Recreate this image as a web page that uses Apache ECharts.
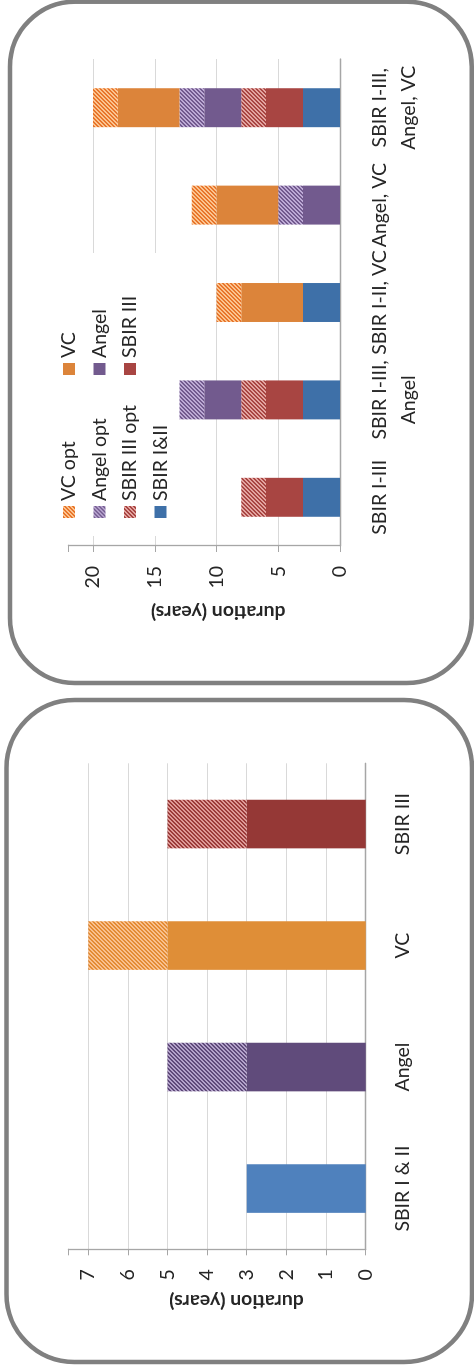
<!DOCTYPE html>
<html><head><meta charset="utf-8">
<script src="https://cdn.jsdelivr.net/npm/echarts@6/dist/echarts.min.js"></script>
<style>
html,body{margin:0;padding:0;background:#fff;overflow:hidden;width:474px;height:1366px;}
#wrap{position:absolute;left:0;top:0;width:1366px;height:474px;transform-origin:0 0;transform:translateY(1366px) rotate(-90deg);}
#chart{width:1366px;height:474px;}
</style></head><body><div id="wrap"><div id="chart"></div></div>
<script>
// ---- data: single-source chart (left panel) ----
const singleCategories = ['SBIR I & II', 'Angel', 'VC', 'SBIR III'];
const singleBase = [3, 3, 5, 3];
const singleOpt = [null, 2, 2, 2];
const singleTicks = [0, 1, 2, 3, 4, 5, 6, 7];

// ---- data: combination chart (right panel) ----
const comboCategories = ['SBIR I-III', 'SBIR I-III,\nAngel', 'SBIR I-II, VC', 'Angel, VC', 'SBIR I-III,\nAngel, VC'];
const sbirI_II   = [3, 3, 3, null, 3];
const sbirIII    = [3, 3, null, null, 3];
const sbirIIIOpt = [2, 2, null, null, 2];
const angel      = [null, 3, null, 3, 3];
const angelOpt   = [null, 2, null, 2, 2];
const vc         = [null, null, 5, 5, 5];
const vcOpt      = [null, null, 2, 2, 2];
const comboTicks = [0, 5, 10, 15, 20];
const legendNames = ['VC opt', 'VC', 'Angel opt', 'Angel', 'SBIR III opt', 'SBIR III', 'SBIR I&II'];

function hatch(dark, light) {
  const c = document.createElement('canvas');
  c.width = 4; c.height = 4;
  const g = c.getContext('2d');
  g.fillStyle = light; g.fillRect(0, 0, 4, 4);
  g.fillStyle = dark;
  for (let x = 0; x < 4; x++) for (let y = 0; y < 4; y++) if ((x + y) % 4 < 2) g.fillRect(x, y, 1, 1);
  return { image: c, repeat: 'repeat' };
}

const FONT = 'Lato, "Open Sans", sans-serif';
const TXT = '#262626';
const FS = 19.5;
const AXIS = '#A6A6A6';
const GRID = '#D9D9D9';

const singleColors = ['#4F81BD', '#604B7B', '#DF8E37', '#953836'];
const singleOptFills = [null, hatch('#5F4A7A', '#B4A3CB'), hatch('#E38B34', '#F9C08E'), hatch('#9B3B39', '#DE9A97')];

const comboStyle = {
  'SBIR I&II': '#3E70A8',
  'SBIR III': '#A84542',
  'SBIR III opt': hatch('#A84542', '#E3A4A0'),
  'Angel': '#725A8E',
  'Angel opt': hatch('#725A8E', '#BDAAD5'),
  'VC': '#DC843A',
  'VC opt': hatch('#E8752B', '#FBC490')
};
const comboSeriesData = [
  ['SBIR I&II', sbirI_II], ['SBIR III', sbirIII], ['SBIR III opt', sbirIIIOpt],
  ['Angel', angel], ['Angel opt', angelOpt], ['VC', vc], ['VC opt', vcOpt]
];

const col2 = ['VC', 'Angel', 'SBIR III'];

const option = {
  animation: false,
  backgroundColor: '#fff',
  textStyle: { fontFamily: FONT },
  grid: [
    { left: 116.7, top: 68.3, width: 486, height: 297.4, containLabel: false },
    { left: 820, top: 68.3, width: 487, height: 271.7, containLabel: false }
  ],
  legend: {
    data: legendNames,
    left: 830, top: 53.75, width: 300,
    orient: 'horizontal',
    padding: [5, 15, 5, 18],
    backgroundColor: '#fff',
    itemGap: 10,
    itemWidth: 12, itemHeight: 12,
    icon: 'rect',
    formatter: n => (col2.indexOf(n) >= 0 ? '{b|' + n + '}' : '{a|' + n + '}'),
    textStyle: {
      fontFamily: FONT, fontSize: FS, color: TXT, lineHeight: 20.5,
      rich: {
        a: { width: 116, fontFamily: FONT, fontSize: FS, color: TXT, lineHeight: 20.5 },
        b: { width: 90, fontFamily: FONT, fontSize: FS, color: TXT, lineHeight: 20.5 }
      }
    }
  },
  xAxis: [
    {
      gridIndex: 0, type: 'category', data: singleCategories,
      axisLine: { lineStyle: { color: AXIS, width: 1.3 } },
      axisTick: { length: 7, lineStyle: { color: AXIS, width: 1.3 } },
      axisLabel: { interval: 0, margin: 27, fontFamily: FONT, fontSize: FS, color: TXT }
    },
    {
      gridIndex: 1, type: 'category', data: comboCategories,
      axisLine: { lineStyle: { color: AXIS, width: 1.3 } },
      axisTick: { length: 7, lineStyle: { color: AXIS, width: 1.3 } },
      axisLabel: { interval: 0, margin: 25, lineHeight: 29, fontFamily: FONT, fontSize: FS, color: TXT }
    }
  ],
  yAxis: [
    {
      gridIndex: 0, type: 'value', min: 0, max: 7.5, interval: 1,
      axisLine: { show: true, lineStyle: { color: AXIS, width: 1.3 } },
      axisTick: { show: true, length: 6, lineStyle: { color: AXIS } },
      splitLine: { show: true, showMaxLine: false, lineStyle: { color: GRID, width: 1.2 } },
      axisLabel: { margin: 20, fontFamily: FONT, fontSize: FS, color: TXT,
        formatter: v => (singleTicks.indexOf(v) >= 0 ? String(v) : '') },
      name: 'duration (years)', nameLocation: 'middle', nameGap: 42,
      nameTextStyle: { fontFamily: FONT, fontSize: FS, fontWeight: 'bold', color: TXT, padding: [0, 39, 0, 0] }
    },
    {
      gridIndex: 1, type: 'value', min: 0, max: 22, interval: 5,
      axisLine: { show: true, lineStyle: { color: AXIS, width: 1.3 } },
      axisTick: { show: true, length: 6, lineStyle: { color: AXIS } },
      splitLine: { show: true, showMaxLine: false, lineStyle: { color: GRID, width: 1.2 } },
      axisLabel: { margin: 20, fontFamily: FONT, fontSize: FS, color: TXT,
        formatter: v => (comboTicks.indexOf(v) >= 0 ? String(v) : '') },
      name: 'duration (years)', nameLocation: 'middle', nameGap: 56,
      nameTextStyle: { fontFamily: FONT, fontSize: FS, fontWeight: 'bold', color: TXT, padding: [0, 28, 0, 0] }
    }
  ],
  series: [
    {
      name: 'single base', type: 'bar', xAxisIndex: 0, yAxisIndex: 0, stack: 'single', barWidth: '40%',
      data: singleBase.map((v, i) => ({ value: v, itemStyle: { color: singleColors[i] } }))
    },
    {
      name: 'single opt', type: 'bar', xAxisIndex: 0, yAxisIndex: 0, stack: 'single', barWidth: '40%',
      data: singleOpt.map((v, i) => ({ value: v, itemStyle: { color: singleOptFills[i] || '#fff' } }))
    }
  ].concat(comboSeriesData.map(([name, arr]) => ({
    name, type: 'bar', xAxisIndex: 1, yAxisIndex: 1, stack: 'combo', barWidth: '40%',
    itemStyle: { color: comboStyle[name] },
    data: arr
  }))),
  graphic: [
    { type: 'rect', silent: true, z: 100, shape: { x: 4, y: 6.5, width: 662, height: 465.5, r: 68 },
      style: { fill: 'none', stroke: '#808080', lineWidth: 4.5 } },
    { type: 'rect', silent: true, z: 100, shape: { x: 683, y: 10, width: 681.3, height: 461.7, r: 65 },
      style: { fill: 'none', stroke: '#808080', lineWidth: 4.5 } }
  ]
};

const chart = echarts.init(document.getElementById('chart'), null, { renderer: 'canvas' });
chart.setOption(option);
</script></body></html>
